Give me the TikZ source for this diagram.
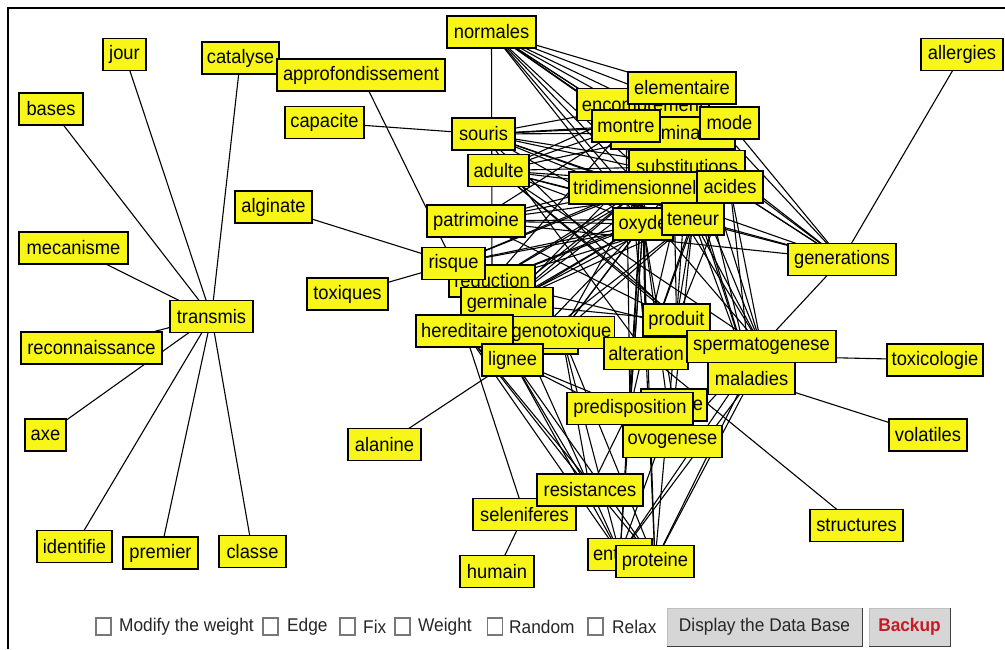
\documentclass[tikz,border=0pt]{standalone}
\usepackage{fontspec}
\setmainfont{Liberation Sans}[FakeStretch=0.94]
\usetikzlibrary{backgrounds}
\pgfdeclarelayer{links}
\pgfsetlayers{background,links,main}
\definecolor{termfill}{RGB}{248,246,24}
\definecolor{btnface}{RGB}{214,214,214}
\definecolor{btnred}{RGB}{196,28,36}
\definecolor{cbline}{RGB}{120,120,120}

\tikzset{
  term/.style={draw=black, line width=1.4pt, fill=termfill, minimum height=32pt,
    inner xsep=3pt, inner ysep=0pt, text=black,
    font=\fontsize{19.5}{20}\selectfont},
  edge/.style={line width=1.1pt, draw=black},
  uilabel/.style={anchor=west, inner sep=0pt, text=black!85,
    font=\fontsize{18.4}{20}\selectfont},
  cbox/.style={draw=cbline, line width=1.1pt, fill=white, minimum width=15pt,
    minimum height=17pt, inner sep=0pt},
  button/.style={fill=btnface, draw=black!25, line width=0.8pt, minimum height=38pt,
    inner sep=0pt, font=\fontsize{18.4}{20}\selectfont, text=black!85},
}

\begin{document}
\begin{tikzpicture}[x=1pt,y=-1pt]
\useasboundingbox (0,0) rectangle (1005,649);
\begin{pgfonlayer}{background}
\fill[white] (0,0) rectangle (1005,649);
\end{pgfonlayer}
% panel frame
\draw[line width=2pt] (8,649) -- (8,8) -- (1005,8);

% ---------- terms (drawn in stacking order) ----------
\node[term, minimum width=43pt]  (jour)      at (124.5,54.5) {jour};
\node[term, minimum width=77pt]  (catalyse)  at (240.5,58)   {catalyse};
\node[term, minimum width=168pt] (approf)    at (361,75)     {approfondissement};
\node[term, minimum width=64pt]  (bases)     at (51,109)     {bases};
\node[term, minimum width=79pt]  (capacite)  at (324.5,122.5){capacite};
\node[term, minimum width=77pt]  (alginate)  at (273.5,207)  {alginate};
\node[term, minimum width=109pt] (mecanisme) at (73.5,248)   {mecanisme};
\node[term, minimum width=83pt]  (transmis)  at (211.5,316.5){transmis};
\node[term, minimum width=141pt] (reconn)    at (91.5,348)   {reconnaissance};
\node[term, minimum width=81pt]  (toxiques)  at (347.5,294)  {toxiques};
\node[term, minimum width=41pt]  (axe)       at (45.5,435)   {axe};
\node[term, minimum width=75pt]  (identifie) at (74.5,546.5) {identifie};
\node[term, minimum width=75pt]  (premier)   at (160.5,553)  {premier};
\node[term, minimum width=67pt]  (classe)    at (252.5,551.5){classe};

\node[term, minimum width=89pt]  (normales)  at (491.5,32)   {normales};
\node[term, minimum width=63pt]  (souris)    at (483.5,134)  {souris};
\node[term, minimum width=61pt]  (adulte)    at (498.5,170.5){adulte};
\node[term, minimum width=98pt]  (patrimoine)at (476,221)    {patrimoine};
\node[term, minimum width=86pt]  (reduction) at (492,281)    {reduction};
\node[term, minimum width=63pt]  (risque)    at (453.5,263.5){risque};
\node[term, minimum width=92pt]  (germinale) at (507,303.5)  {germinale};
\node[term, minimum width=78pt]  (hidA)      at (539,338)    {};
\node[term, minimum width=99pt]  (genotox)   at (561.5,332.5){genotoxique};
\node[term, minimum width=97pt]  (hereditaire) at (464.5,331){hereditaire};
\node[term, minimum width=61pt]  (lignee)    at (512.5,360)  {lignee};

\node[term, minimum width=132pt] (encomb)    at (643,104.5)  {encombrement};
\node[term, minimum width=124pt] (contam)    at (673,133)    {contamination};
\node[term, minimum width=108pt] (elem)      at (682,88)     {elementaire};
\node[term, minimum width=68pt]  (montre)    at (626,126)    {montre};
\node[term, minimum width=59pt]  (mode)      at (729.5,123)  {mode};
\node[term, minimum width=116pt] (subst)     at (687,166.5)  {substitutions};
\node[term, minimum width=146pt] (tridim)    at (642,188)    {tridimensionnelle};
\node[term, minimum width=66pt]  (acides)    at (730,187)    {acides};
\node[term, minimum width=60pt]  (oxyde)     at (643,224)    {oxyde};
\node[term, minimum width=62pt]  (teneur)    at (693,219)    {teneur};

\node[term, minimum width=82pt]  (allergies) at (962,54.5)   {allergies};
\node[term, minimum width=108pt] (generations) at (842,259.5){generations};
\node[term, minimum width=67pt]  (produit)   at (676.5,320)  {produit};
\node[term, minimum width=84pt]  (alteration)at (646,353.5)  {alteration};
\node[term, minimum width=87pt]  (maladies)  at (751.5,378.5){maladies};
\node[term, minimum width=149pt] (sperm)     at (761.5,346.5){spermatogenese};
\node[term, minimum width=96pt]  (toxicol)   at (935,360)    {toxicologie};
\node[term, minimum width=78pt]  (volatiles) at (928,435)    {volatiles};
\node[term, text width=58pt, align=right, inner xsep=4pt] (hidE) at (674,405) {e};
\node[term, minimum width=126pt] (predisp)   at (630,408.5)  {predisposition};
\node[term, minimum width=99pt]  (ovogen)    at (672.5,441.5){ovogenese};
\node[term, minimum width=93pt]  (structures)at (856.5,525.5){structures};
\node[term, minimum width=73pt]  (alanine)   at (384.5,444.5){alanine};
\node[term, minimum width=103pt] (selen)     at (524.5,514.5){seleniferes};
\node[term, minimum width=106pt] (resist)    at (590,490)    {resistances};
\node[term, minimum width=74pt]  (humain)    at (497,571.5)  {humain};
\node[term, text width=54pt, align=left, inner xsep=5pt] (ent) at (620,554.5) {ent};
\node[term, minimum width=78pt]  (proteine)  at (655,561.5)  {proteine};

% ---------- connectors, painted beneath the terms ----------
\begin{pgfonlayer}{links}
\foreach \a/\b in {
  transmis/jour, transmis/catalyse, transmis/bases, transmis/mecanisme,
  transmis/reconn, transmis/axe, transmis/identifie, transmis/premier, transmis/classe,
  alginate/risque, toxiques/risque, approf/risque, capacite/souris,
  normales/reduction, lignee/alanine, selen/humain, selen/hereditaire,
  allergies/generations, structures/alteration, volatiles/maladies,
  toxicol/alteration, generations/ovogen,
  normales/elem, normales/mode, normales/encomb, normales/contam, normales/montre,
  normales/subst, normales/acides, normales/generations, normales/tridim,
  normales/teneur, normales/oxyde, normales/sperm,
  souris/montre, souris/contam, souris/encomb, souris/subst, souris/tridim,
  souris/acides, souris/teneur, souris/oxyde, souris/mode, souris/generations,
  souris/produit, souris/alteration,
  adulte/montre, adulte/contam, adulte/subst, adulte/tridim, adulte/acides,
  adulte/teneur, adulte/oxyde, adulte/generations, adulte/produit, adulte/sperm,
  adulte/maladies, adulte/elem,
  patrimoine/subst, patrimoine/tridim, patrimoine/oxyde, patrimoine/teneur,
  patrimoine/acides, patrimoine/produit, patrimoine/generations, patrimoine/montre,
  risque/tridim, risque/oxyde, risque/teneur, risque/subst,
  reduction/tridim, reduction/oxyde, reduction/teneur, reduction/subst,
  reduction/acides, reduction/montre, reduction/sperm,
  germinale/tridim, germinale/oxyde, germinale/teneur, germinale/subst,
  germinale/acides, germinale/contam, germinale/produit, germinale/alteration,
  germinale/ent,
  genotox/oxyde, genotox/teneur, genotox/tridim, genotox/alteration,
  genotox/proteine, genotox/ent, genotox/resist, genotox/subst,
  hereditaire/oxyde, hereditaire/proteine, hereditaire/ent, hereditaire/resist,
  hereditaire/tridim,
  lignee/proteine, lignee/ent, lignee/resist, lignee/predisp, lignee/ovogen,
  lignee/oxyde, lignee/teneur,
  tridim/predisp, tridim/ent, tridim/proteine, subst/produit, subst/sperm,
  subst/maladies, oxyde/alteration, oxyde/predisp, oxyde/ovogen, oxyde/hidE,
  oxyde/ent, teneur/sperm, teneur/maladies, teneur/produit, teneur/alteration,
  teneur/hidE, teneur/generations, acides/sperm, acides/maladies,
  acides/generations, montre/predisp, montre/alteration, contam/maladies,
  contam/generations, mode/generations, elem/generations, encomb/generations,
  mode/alteration, elem/maladies, elem/sperm, contam/produit, encomb/alteration,
  acides/produit, montre/sperm, subst/predisp,
  maladies/proteine, maladies/ent, sperm/ent, sperm/proteine,
  alteration/proteine, produit/proteine, hidE/ent, predisp/resist}
  \draw[edge] (\a.center) -- (\b.center);
\end{pgfonlayer}

% ---------- control bar ----------
\node[cbox] (cbModify) at (103.5,626.5) {};
\node[uilabel] (lbModify) at (119,627) {Modify the weight};
\node[cbox] (cbEdge) at (270.5,626.5) {};
\node[uilabel] (lbEdge) at (287,627) {Edge};
\node[cbox] (cbFix) at (347.5,626.5) {};
\node[uilabel] (lbFix) at (363,627) {Fix};
\node[cbox] (cbWeight) at (402.5,626.5) {};
\node[uilabel] (lbWeight) at (418,627) {Weight};
\node[cbox] (cbRandom) at (495,626.5) {};
\node[uilabel] (lbRandom) at (509,627) {Random};
\node[cbox] (cbRelax) at (595.5,626.5) {};
\node[uilabel] (lbRelax) at (612,627) {Relax};

\node[button, minimum width=195pt] (btnDisplay) at (764.5,627) {Display the Data Base};
\node[button, minimum width=81pt, font=\bfseries\fontsize{18.4}{20}\selectfont,
  text=btnred] (btnBackup) at (909.5,627) {Backup};
\foreach \bt in {btnDisplay, btnBackup}{
  \draw[white, line width=1.2pt] (\bt.south west) -- (\bt.north west) -- (\bt.north east);
  \draw[black!75, line width=1.8pt] (\bt.north east) -- (\bt.south east) -- (\bt.south west);
}
\end{tikzpicture}
\end{document}
